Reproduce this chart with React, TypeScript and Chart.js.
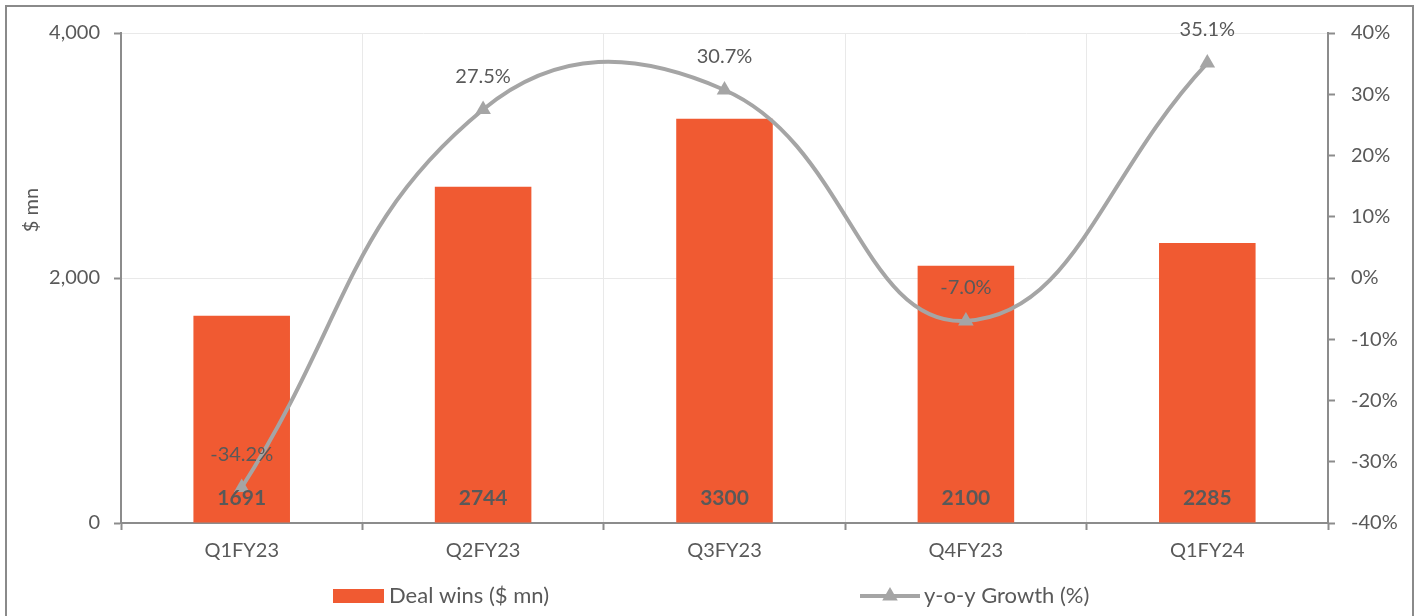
import React, { useEffect, useRef } from 'react';
import { Chart, registerables } from 'chart.js';

Chart.register(...registerables);

const categories = ['Q1FY23', 'Q2FY23', 'Q3FY23', 'Q4FY23', 'Q1FY24'];
const dealWins = [1691, 2744, 3300, 2100, 2285];
const yoyGrowth = [-34.2, 27.5, 30.7, -7.0, 35.1];
const barLabel = 'Deal wins ($ mn)';
const lineLabel = 'y-o-y Growth (%)';
const leftAxisTitle = '$ mn';

const FONT = 'Lato, "Liberation Sans", sans-serif';
const TEXT = '#595959';
const BAR = '#F05A32';
const LINE = '#A5A5A5';
const AXIS = '#8C8C8C';
const GRID = '#E9E9E9';

function drawTriangle(ctx: CanvasRenderingContext2D, x: number, y: number, r: number) {
  ctx.beginPath();
  let rad = 0;
  ctx.moveTo(x + Math.sin(rad) * r, y - Math.cos(rad) * r);
  rad += (2 * Math.PI) / 3;
  ctx.lineTo(x + Math.sin(rad) * r, y - Math.cos(rad) * r);
  rad += (2 * Math.PI) / 3;
  ctx.lineTo(x + Math.sin(rad) * r, y - Math.cos(rad) * r);
  ctx.closePath();
  ctx.fill();
}

const labelPlugin = {
  id: 'customLabels',
  afterDatasetsDraw(chart: any) {
    const ctx: CanvasRenderingContext2D = chart.ctx;
    const area = chart.chartArea;
    const barMeta = chart.getDatasetMeta(0);
    const lineMeta = chart.getDatasetMeta(1);
    ctx.save();
    ctx.textAlign = 'center';
    ctx.textBaseline = 'middle';
    ctx.fillStyle = TEXT;
    ctx.font = `bold 21px ${FONT}`;
    barMeta.data.forEach((el: any, i: number) => {
      ctx.fillText(String(dealWins[i]), el.x, area.bottom - 25);
    });
    ctx.font = `20px ${FONT}`;
    lineMeta.data.forEach((el: any, i: number) => {
      ctx.fillText(yoyGrowth[i].toFixed(1) + '%', el.x, el.y - 33);
    });
    ctx.restore();
  },
  afterDraw(chart: any) {
    const ctx: CanvasRenderingContext2D = chart.ctx;
    ctx.save();
    // left axis title
    ctx.fillStyle = TEXT;
    ctx.font = `20px ${FONT}`;
    ctx.textAlign = 'center';
    ctx.textBaseline = 'middle';
    ctx.translate(25, 203);
    ctx.rotate(-Math.PI / 2);
    ctx.fillText(leftAxisTitle, 0, 0);
    ctx.restore();

    // legend
    ctx.save();
    const ly = 589;
    ctx.fillStyle = BAR;
    ctx.fillRect(326, ly - 7, 51, 14);
    ctx.fillStyle = TEXT;
    ctx.font = `22px ${FONT}`;
    ctx.textAlign = 'left';
    ctx.textBaseline = 'middle';
    ctx.fillText(barLabel, 382, ly);

    ctx.strokeStyle = LINE;
    ctx.lineWidth = 4;
    ctx.beginPath();
    ctx.moveTo(853, ly);
    ctx.lineTo(913, ly);
    ctx.stroke();
    ctx.fillStyle = LINE;
    drawTriangle(ctx, 883, ly, 9);
    ctx.fillStyle = TEXT;
    ctx.fillText(lineLabel, 917, ly);
    ctx.restore();
  },
};

export default function App() {
  const ref = useRef<HTMLCanvasElement | null>(null);

  useEffect(() => {
    if (!ref.current) return;
    const chart = new Chart(ref.current, {
      type: 'bar',
      data: {
        labels: categories,
        datasets: [
          {
            type: 'bar',
            label: barLabel,
            data: dealWins,
            backgroundColor: BAR,
            barPercentage: 0.4,
            categoryPercentage: 1,
            yAxisID: 'y',
            order: 1,
          },
          {
            type: 'line',
            label: lineLabel,
            data: yoyGrowth,
            borderColor: LINE,
            backgroundColor: LINE,
            borderWidth: 4,
            tension: 0.44,
            pointStyle: 'triangle',
            pointRadius: 9,
            pointBorderWidth: 0,
            pointBackgroundColor: LINE,
            yAxisID: 'y1',
            order: 0,
            clip: false as any,
          } as any,
        ],
      },
      options: {
        responsive: false,
        animation: false,
        devicePixelRatio: 1,
        layout: { padding: { top: 24, bottom: 43, left: 0, right: 0 } },
        plugins: {
          legend: { display: false },
          tooltip: { enabled: false },
        },
        scales: {
          x: {
            offset: true,
            grid: {
              offset: true,
              color: GRID,
              lineWidth: 1,
              tickColor: AXIS,
              tickLength: 7,
              tickWidth: 2,
            } as any,
            border: { color: AXIS, width: 2 },
            ticks: {
              color: TEXT,
              font: { family: FONT, size: 20 },
              padding: 9,
            },
            afterFit(scale: any) {
              scale.height = 50;
            },
          },
          y: {
            position: 'left',
            min: 0,
            max: 4000,
            ticks: {
              stepSize: 2000,
              color: TEXT,
              font: { family: FONT, size: 20, lineHeight: 1 },
              padding: 14,
              callback: (v: any) => Number(v).toLocaleString('en-US'),
            },
            grid: {
              color: GRID,
              tickColor: AXIS,
              tickLength: 7,
              tickWidth: 2,
            } as any,
            border: { color: AXIS, width: 2 },
            afterFit(scale: any) {
              scale.width = 114;
            },
          },
          y1: {
            position: 'right',
            min: -40,
            max: 40,
            ticks: {
              stepSize: 10,
              color: TEXT,
              font: { family: FONT, size: 20, lineHeight: 1 },
              padding: 16,
              callback: (v: any) => `${v}%`,
            },
            grid: {
              drawOnChartArea: false,
              tickColor: AXIS,
              tickLength: 7,
              tickWidth: 2,
            } as any,
            border: { color: AXIS, width: 2 },
            afterFit(scale: any) {
              scale.width = 84;
            },
          },
        },
      } as any,
      plugins: [labelPlugin],
    });
    return () => chart.destroy();
  }, []);

  return (
    <div
      style={{
        position: 'absolute',
        left: 5,
        top: 5,
        width: 1409,
        height: 611,
        boxSizing: 'border-box',
        borderTop: '2px solid #8A8A8A',
        borderLeft: '2px solid #8A8A8A',
        borderRight: '2px solid #8A8A8A',
        background: '#FFFFFF',
        overflow: 'hidden',
      }}
    >
      <canvas ref={ref} width={1405} height={609} style={{ display: 'block', width: 1405, height: 609 }} />
    </div>
  );
}
